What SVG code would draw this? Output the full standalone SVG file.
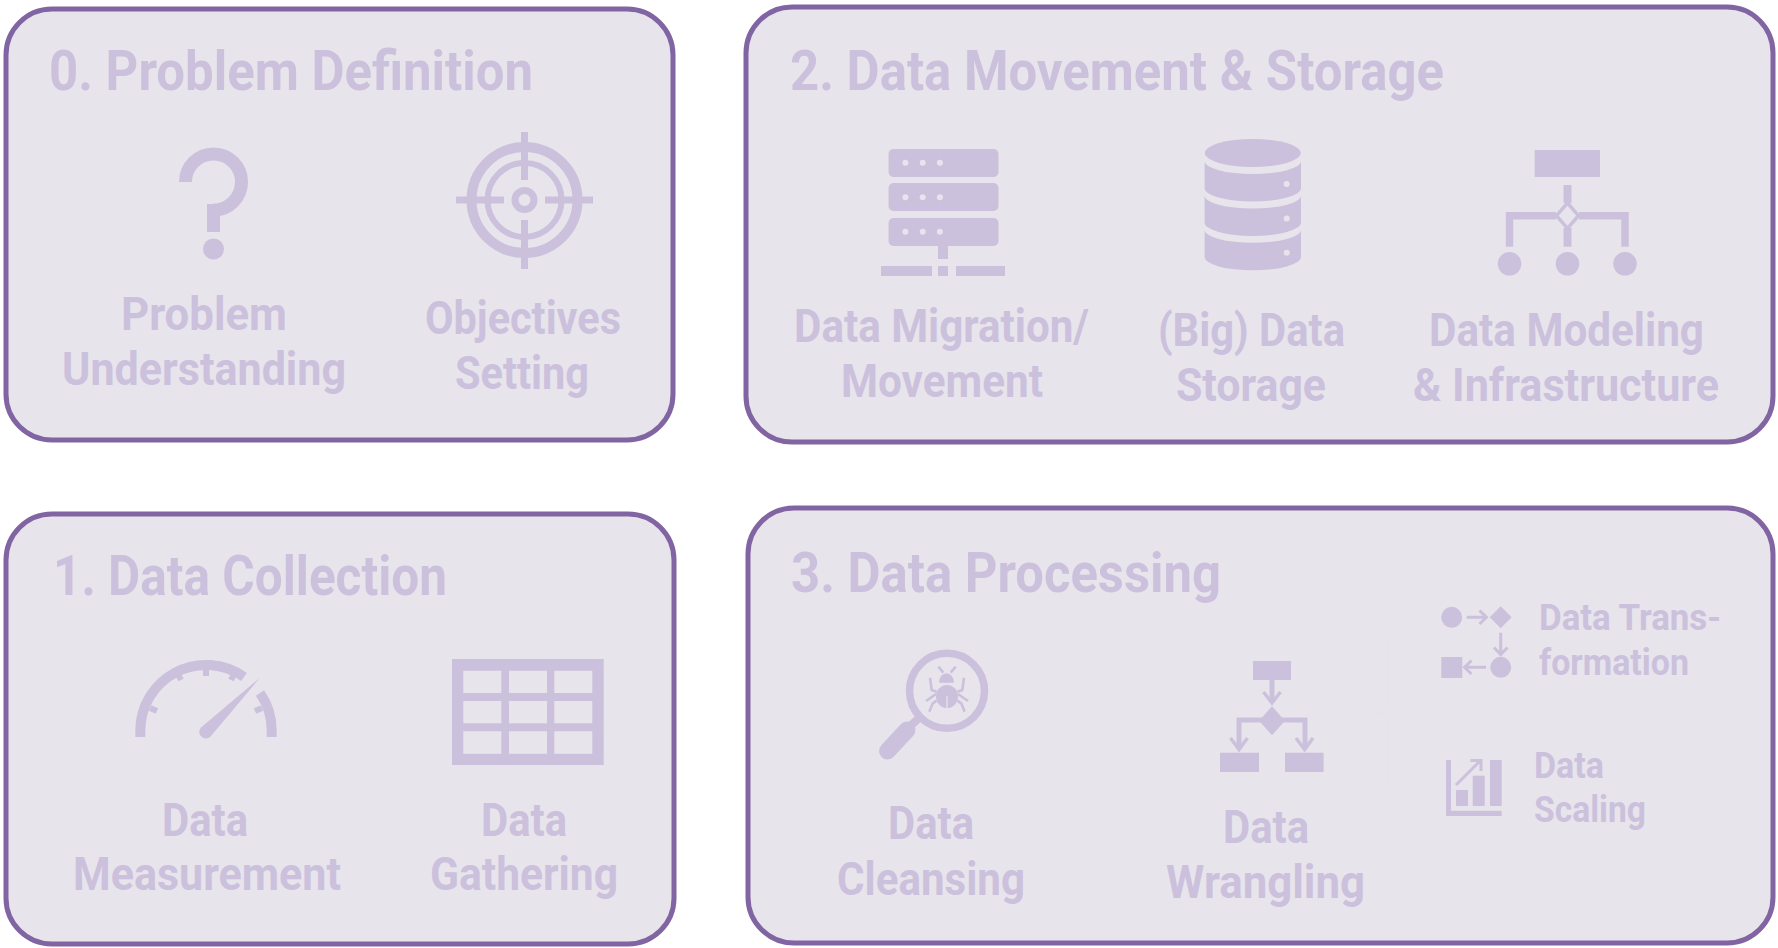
<svg xmlns="http://www.w3.org/2000/svg" xmlns:xlink="http://www.w3.org/1999/xlink" width="1778" height="948" viewBox="0 0 1778 948">
<style>
text{font-family:"Roboto","Liberation Sans",sans-serif;font-weight:700;fill:#cbc1dc}
.t{font-size:55px}.l{font-size:46px}.s{font-size:36px}
.p{fill:#e8e4ec;stroke:#8165a3;stroke-width:5}
.f{fill:#cbc1dc;stroke:none}
.n{fill:none;stroke:#cbc1dc}
.b{fill:#e8e4ec;stroke:none}
</style>
<rect width="1778" height="948" fill="#ffffff"/>
<defs>
<g id="dbseg"><path class="f" d="M1204.6 161A48 13 0 0 0 1301 161V188A48 13.5 0 0 1 1204.6 188Z"/><circle class="b" cx="1286.7" cy="184" r="3"/></g>
</defs>
<g id="panel-0">
<rect class="p" x="6" y="9" width="667" height="431" rx="46"/>
<text class="t" x="49" y="90" textLength="484" lengthAdjust="spacingAndGlyphs">0. Problem Definition</text>
<g id="icon-question"><path class="n" stroke-width="13" d="M185.5 182A28 28 0 1 1 213.5 210"/><rect class="f" x="207" y="204" width="13" height="28"/><circle class="f" cx="213.5" cy="249" r="10.5"/></g>
<g id="icon-target"><circle class="n" cx="524.5" cy="200" r="53" stroke-width="10"/><circle class="n" cx="524.5" cy="200" r="37" stroke-width="6"/><circle class="n" cx="524.5" cy="200" r="9.5" stroke-width="7"/><path class="n" stroke-width="7" d="M456 200H504M545 200H593M524.5 132V180M524.5 220V269"/></g>
<text class="l" x="121" y="330" textLength="166" lengthAdjust="spacingAndGlyphs">Problem</text>
<text class="l" x="62" y="385" textLength="284" lengthAdjust="spacingAndGlyphs">Understanding</text>
<text class="l" x="425" y="334" textLength="196" lengthAdjust="spacingAndGlyphs">Objectives</text>
<text class="l" x="455" y="389" textLength="134" lengthAdjust="spacingAndGlyphs">Setting</text>
</g>
<g id="panel-2">
<rect class="p" x="746" y="7" width="1027" height="435" rx="46"/>
<text class="t" x="790" y="90" textLength="654" lengthAdjust="spacingAndGlyphs">2. Data Movement &amp; Storage</text>
<g id="icon-server">
<rect class="f" x="888.5" y="149" width="110" height="28" rx="5"/><rect class="f" x="888.5" y="183" width="110" height="28" rx="5"/><rect class="f" x="888.5" y="218" width="110" height="28" rx="5"/>
<g class="b"><circle cx="905.4" cy="162.7" r="3"/><circle cx="922.7" cy="162.7" r="3"/><circle cx="939.9" cy="162.7" r="3"/><circle cx="905.4" cy="197.3" r="3"/><circle cx="922.7" cy="197.3" r="3"/><circle cx="939.9" cy="197.3" r="3"/><circle cx="905.4" cy="231.7" r="3"/><circle cx="922.7" cy="231.7" r="3"/><circle cx="939.9" cy="231.7" r="3"/></g>
<rect class="f" x="938" y="245" width="10" height="14"/><rect class="f" x="881" y="266" width="51" height="10"/><rect class="f" x="938" y="266" width="10" height="10"/><rect class="f" x="956" y="266" width="49" height="10"/>
</g>
<g id="icon-database"><ellipse class="f" cx="1252.8" cy="153" rx="48" ry="14"/><use xlink:href="#dbseg"/><use xlink:href="#dbseg" y="34.4"/><use xlink:href="#dbseg" y="68.8"/></g>
<g id="icon-hierarchy">
<rect class="f" x="1534.6" y="150" width="65.4" height="27"/>
<path class="n" stroke-width="8" d="M1567.5 185V203M1567.5 228V246.7"/>
<path class="n" stroke-width="7.5" d="M1509.5 246.7V215.7H1556M1579 215.7H1625V246.7"/>
<path class="n" stroke-width="3.5" d="M1567.5 203L1578.5 215.7L1567.5 228.4L1556.5 215.7Z"/>
<circle class="f" cx="1509.5" cy="263.8" r="11.8"/><circle class="f" cx="1567.5" cy="263.8" r="11.8"/><circle class="f" cx="1625" cy="263.8" r="11.8"/>
</g>
<text class="l" x="794" y="342" textLength="295" lengthAdjust="spacingAndGlyphs">Data Migration/</text>
<text class="l" x="841" y="397" textLength="202" lengthAdjust="spacingAndGlyphs">Movement</text>
<text class="l" x="1158" y="346" textLength="187" lengthAdjust="spacingAndGlyphs">(Big) Data</text>
<text class="l" x="1176" y="401" textLength="150" lengthAdjust="spacingAndGlyphs">Storage</text>
<text class="l" x="1429" y="346" textLength="275" lengthAdjust="spacingAndGlyphs">Data Modeling</text>
<text class="l" x="1413" y="401" textLength="306" lengthAdjust="spacingAndGlyphs">&amp; Infrastructure</text>
</g>
<g id="panel-1">
<rect class="p" x="6" y="514" width="668" height="430" rx="46"/>
<text class="t" x="53" y="595" textLength="394" lengthAdjust="spacingAndGlyphs">1. Data Collection</text>
<g id="icon-gauge">
<path class="n" stroke-width="10" d="M140.3 737V731A65.7 65.7 0 0 1 244 677M260 693A65.7 65.7 0 0 1 271.7 731V737"/>
<path class="n" stroke-width="6" d="M206 670V676M178 674L181 680M156 684L161 689M150 708L157 711M262 708L255 711M234 674L231 680" stroke-linecap="butt"/>
<path class="f" d="M260 677.7L211 736A6.5 6.5 0 0 1 200.7 727.7Z"/>
</g>
<g id="icon-grid"><path class="f" fill-rule="evenodd" d="M452 659H603.7V765H452ZM463.3 670.7V693H501.3V670.7ZM509 670.7V693H547V670.7ZM554.3 670.7V693H592.3V670.7ZM463.3 701V723.3H501.3V701ZM509 701V723.3H547V701ZM554.3 701V723.3H592.3V701ZM463.3 731.3V753.7H501.3V731.3ZM509 731.3V753.7H547V731.3ZM554.3 731.3V753.7H592.3V731.3Z"/></g>
<text class="l" x="162" y="836" textLength="86" lengthAdjust="spacingAndGlyphs">Data</text>
<text class="l" x="73" y="890" textLength="268" lengthAdjust="spacingAndGlyphs">Measurement</text>
<text class="l" x="481" y="836" textLength="86" lengthAdjust="spacingAndGlyphs">Data</text>
<text class="l" x="430" y="890" textLength="188" lengthAdjust="spacingAndGlyphs">Gathering</text>
</g>
<g id="panel-3">
<rect class="p" x="748" y="508" width="1025" height="435" rx="46"/>
<text class="t" x="791" y="592" textLength="430" lengthAdjust="spacingAndGlyphs">3. Data Processing</text>
<g id="icon-magnifier">
<circle class="n" cx="947" cy="690.8" r="37.5" stroke-width="7.5"/>
<path class="n" stroke-width="8" d="M906 730L920 717"/>
<path class="n" stroke-width="17" stroke-linecap="round" d="M887.5 751L907 730"/>
<g id="bug">
<path class="f" d="M939 682.7A7.5 9.4 0 0 1 954 682.7Z"/>
<ellipse class="f" cx="947" cy="696.5" rx="11" ry="11.5"/>
<path class="b" d="M946.4 696h1.2v12h-1.2z"/>
<g class="n" stroke-width="2.6"><path d="M938.3 666.7L943.3 672.7M930 677.7L931.7 690L936.7 691.7M926 701L936 694M929.3 711.7L932.7 703.3L936.7 700.7"/></g>
<g class="n" stroke-width="2.6" transform="translate(1894 0) scale(-1 1)"><path d="M938.3 666.7L943.3 672.7M930 677.7L931.7 690L936.7 691.7M926 701L936 694M929.3 711.7L932.7 703.3L936.7 700.7"/></g>
</g>
</g>
<g id="icon-flow">
<rect class="f" x="1253" y="661" width="38" height="19"/><rect class="f" x="1220" y="752.7" width="39" height="19.3"/><rect class="f" x="1285" y="752.7" width="38.6" height="19.3"/>
<path class="f" d="M1272 706.2L1285 720.7L1272 735.2L1259 720.7Z"/>
<path class="n" stroke-width="5" d="M1239 749V720H1305V749M1272 680V702"/>
<path class="n" stroke-width="3.5" d="M1263.5 692L1272 703L1280.5 692M1230.5 738L1239 749.5L1247.5 738M1296 738L1304.6 749.5L1313 738"/>
</g>
<g id="bracket"><path fill="none" stroke="#e6e3ed" stroke-width="1.5" d="M1400.7 636.7H1393Q1387.3 636.7 1387.3 642V708Q1387.3 714 1374 714Q1387.3 714 1387.3 720V785Q1387.3 791 1393 791H1400.7"/></g>
<g id="icon-transform">
<circle class="f" cx="1451.7" cy="617.3" r="10.5"/>
<path class="f" d="M1500.7 606.3L1511.7 617.3L1500.7 628.3L1489.7 617.3Z"/>
<circle class="f" cx="1500.7" cy="667.3" r="10.5"/>
<rect class="f" x="1441.3" y="657" width="21" height="21"/>
<path class="n" stroke-width="3" d="M1466.7 617.3H1486M1479.5 610.5L1486.5 617.3L1479.5 624M1500.7 632.7V654M1494 647.5L1500.7 654.5L1507.5 647.5M1486 667.3H1465M1471.5 660.5L1464.5 667.3L1471.5 674"/>
</g>
<g id="icon-scaling">
<path class="f" d="M1446 760H1451V810.7H1501.7V816H1446Z"/>
<rect class="f" x="1456" y="790" width="12" height="16"/><rect class="f" x="1472.7" y="775.7" width="12" height="30.3"/><rect class="f" x="1490" y="760" width="11.7" height="46"/>
<path class="n" stroke-width="3" d="M1456 785L1480 761M1470.5 760.5H1481V771"/>
</g>
<text class="l" x="888" y="839" textLength="86" lengthAdjust="spacingAndGlyphs">Data</text>
<text class="l" x="837" y="895" textLength="188" lengthAdjust="spacingAndGlyphs">Cleansing</text>
<text class="l" x="1223" y="843" textLength="86" lengthAdjust="spacingAndGlyphs">Data</text>
<text class="l" x="1166" y="898" textLength="199" lengthAdjust="spacingAndGlyphs">Wrangling</text>
<text class="s" x="1539" y="630" textLength="182" lengthAdjust="spacingAndGlyphs">Data Trans-</text>
<text class="s" x="1539" y="675" textLength="150" lengthAdjust="spacingAndGlyphs">formation</text>
<text class="s" x="1534" y="778" textLength="70" lengthAdjust="spacingAndGlyphs">Data</text>
<text class="s" x="1534" y="822" textLength="112" lengthAdjust="spacingAndGlyphs">Scaling</text>
</g>
</svg>
